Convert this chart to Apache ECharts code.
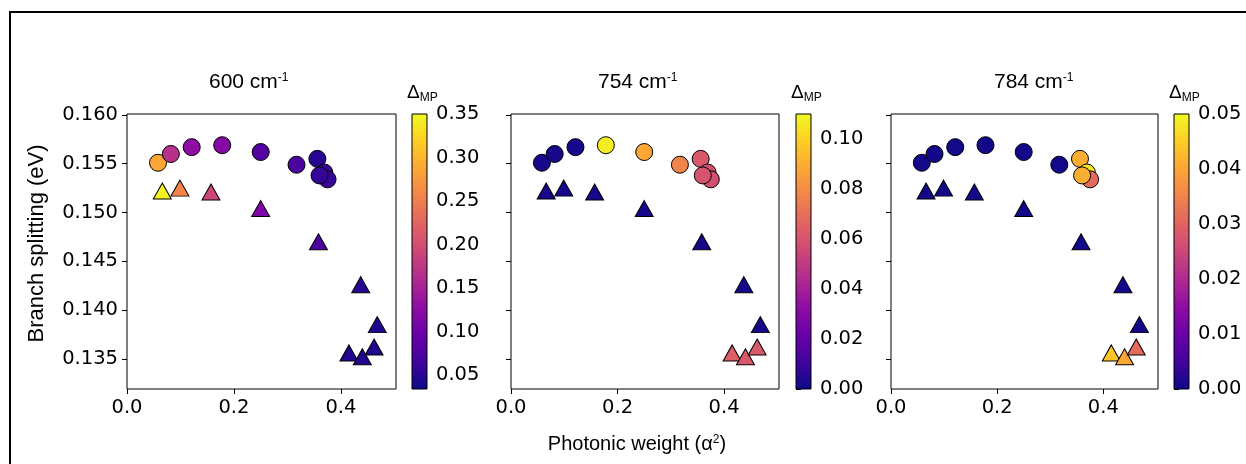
<!DOCTYPE html>
<html>
<head>
<meta charset="utf-8">
<script src="https://cdn.jsdelivr.net/npm/echarts@6/dist/echarts.min.js"></script>
<style>
  html, body { margin: 0; padding: 0; background: #fff; }
  #chart { width: 1246px; height: 464px; }
</style>
</head>
<body>
<div id="chart"></div>
<script>
// photonic weight / branch splitting, same points in all three panels
const circleX = [0.058, 0.082, 0.121, 0.178, 0.250, 0.317, 0.356, 0.369, 0.375, 0.360];
const circleY = [0.1551, 0.1560, 0.1567, 0.1569, 0.1562, 0.1549, 0.1555, 0.1541, 0.1534, 0.1538];
const triX = [0.066, 0.099, 0.157, 0.250, 0.358, 0.437, 0.468, 0.415, 0.440, 0.462];
const triY = [0.1522, 0.1525, 0.1521, 0.1504, 0.1470, 0.1426, 0.1385, 0.1356, 0.1352, 0.1362];

// Δ_MP colour values per mode
const circleDelta600 = [0.287, 0.167, 0.129, 0.119, 0.080, 0.075, 0.050, 0.060, 0.060, 0.058];
const triDelta600 = [0.345, 0.255, 0.192, 0.113, 0.075, 0.050, 0.045, 0.047, 0.047, 0.047];
const circleDelta754 = [0.002, 0.002, 0.002, 0.107, 0.088, 0.077, 0.062, 0.058, 0.058, 0.060];
const triDelta754 = [0.002, 0.002, 0.002, 0.002, 0.002, 0.002, 0.002, 0.064, 0.062, 0.062];
const circleDelta784 = [0.0005, 0.0005, 0.0005, 0.0005, 0.0005, 0.0005, 0.041, 0.048, 0.031, 0.041];
const triDelta784 = [0.0005, 0.0005, 0.0005, 0.0005, 0.0005, 0.0005, 0.0005, 0.044, 0.040, 0.031];

const modes = ['600', '754', '784'];
const xTicks = [0, 0.2, 0.4];
const yTicks = [0.135, 0.140, 0.145, 0.150, 0.155, 0.160];
const cbTicks600 = [0.05, 0.10, 0.15, 0.20, 0.25, 0.30, 0.35];
const cbTicks754 = [0.00, 0.02, 0.04, 0.06, 0.08, 0.10];
const cbTicks784 = [0.00, 0.01, 0.02, 0.03, 0.04, 0.05];
const cbRange600 = [0.034, 0.35];
const cbRange754 = [0, 0.11];
const cbRange784 = [0, 0.05];

const circleDeltas = [circleDelta600, circleDelta754, circleDelta784];
const triDeltas = [triDelta600, triDelta754, triDelta784];
const cbTicks = [cbTicks600, cbTicks754, cbTicks784];
const cbRanges = [cbRange600, cbRange754, cbRange784];

// layout (px)
const gridLefts = [127, 511, 891];
const gridWidths = [269, 268, 267];
const cbLefts = [412, 796, 1174];
const titleLefts = [209, 598, 994];
const gridTop = 114, gridHeight = 275;

const plasma = ['#0d0887', '#41049d', '#6a00a8', '#8f0da4', '#b12a90', '#cc4778',
  '#e16462', '#f2844b', '#fca636', '#fcce25', '#f0f921'];

const tickFont = { fontSize: 19.5, fontFamily: 'DejaVu Sans', color: '#000' };
const textFont = 'Liberation Sans';

const grids = [], xAxes = [], yAxes = [], series = [], visualMaps = [], titles = [];

for (let i = 0; i < 3; i++) {
  grids.push({ left: gridLefts[i], top: gridTop, width: gridWidths[i], height: gridHeight,
    show: true, borderColor: '#000', borderWidth: 1, backgroundColor: '#fff' });
  xAxes.push({
    type: 'value', gridIndex: i, min: 0, max: 0.503,
    splitLine: { show: false }, axisLine: { show: false },
    axisTick: { show: true, length: 5, lineStyle: { color: '#000' }, customValues: xTicks },
    axisLabel: { ...tickFont, margin: 9, customValues: xTicks, formatter: v => v.toFixed(1) },
    name: i === 1 ? 'Photonic weight (α{sup|2})' : '',
    nameLocation: 'middle', nameGap: 45,
    nameTextStyle: { fontSize: 20, fontFamily: textFont, color: '#000', padding: [0, 16, 0, 0],
      rich: { sup: { fontSize: 12, fontFamily: textFont, color: '#000', verticalAlign: 'top', padding: [0, 0, 8, 0] } } }
  });
  yAxes.push({
    type: 'value', gridIndex: i, min: 0.1319, max: 0.1601,
    splitLine: { show: false }, axisLine: { show: false },
    axisTick: { show: true, length: 5, lineStyle: { color: '#000' }, customValues: yTicks },
    axisLabel: { show: i === 0, ...tickFont, margin: 9, customValues: yTicks, formatter: v => v.toFixed(3) },
    name: i === 0 ? 'Branch splitting (eV)' : '',
    nameLocation: 'middle', nameGap: 79, nameRotate: 90,
    nameTextStyle: { fontSize: 22, fontFamily: textFont, color: '#000', padding: [0, 0, 0, 16] }
  });
  series.push({
    type: 'scatter', xAxisIndex: i, yAxisIndex: i, symbol: 'circle', symbolSize: 17,
    itemStyle: { borderColor: '#000', borderWidth: 1, opacity: 1 },
    data: circleX.map((x, k) => [x, circleY[k], circleDeltas[i][k]])
  });
  series.push({
    type: 'scatter', xAxisIndex: i, yAxisIndex: i, symbol: 'triangle', symbolSize: [18, 16],
    itemStyle: { borderColor: '#000', borderWidth: 1, opacity: 1 },
    data: triX.map((x, k) => [x, triY[k], triDeltas[i][k]])
  });
  visualMaps.push({
    type: 'continuous', show: false, seriesIndex: [2 * i, 2 * i + 1], dimension: 2,
    min: cbRanges[i][0], max: cbRanges[i][1], inRange: { color: plasma }
  });
  titles.push({
    text: '{b|' + modes[i] + ' cm}{sup|-1}', left: titleLefts[i], top: 72, padding: 0,
    textStyle: { fontWeight: 'normal', rich: {
      b: { fontSize: 21, fontFamily: textFont, fontWeight: 'normal', color: '#000', verticalAlign: 'bottom' },
      sup: { fontSize: 12, fontFamily: textFont, fontWeight: 'normal', color: '#000', verticalAlign: 'top', padding: [0, 0, 9, 0] }
    } }
  });
  titles.push({
    text: '{d|Δ}{sub|MP}', left: cbLefts[i] - 5, top: 83, padding: 0,
    textStyle: { fontWeight: 'normal', rich: {
      d: { fontSize: 19, fontFamily: textFont, fontWeight: 'normal', color: '#000', verticalAlign: 'top' },
      sub: { fontSize: 12, fontFamily: textFont, fontWeight: 'normal', color: '#000', verticalAlign: 'bottom', padding: [9, 0, 0, 0] }
    } }
  });
}

// colour bars: an extra grid each, gradient filled via the axis scale
for (let i = 0; i < 3; i++) {
  const g = 3 + i;
  grids.push({ left: cbLefts[i], top: gridTop, width: 15, height: gridHeight });
  xAxes.push({ type: 'value', gridIndex: g, min: 0, max: 1, show: false });
  yAxes.push({
    type: 'value', gridIndex: g, position: 'right', min: cbRanges[i][0], max: cbRanges[i][1],
    splitLine: { show: false }, axisLine: { show: false },
    axisTick: { show: true, length: 5, lineStyle: { color: '#000' }, customValues: cbTicks[i] },
    axisLabel: { ...tickFont, margin: 9, customValues: cbTicks[i], formatter: v => v.toFixed(2) }
  });
  series.push({
    type: 'custom', xAxisIndex: g, yAxisIndex: g, silent: true,
    data: [[0, cbRanges[i][0], cbRanges[i][1]]],
    renderItem: (params, api) => {
      const p0 = api.coord([0, api.value(2)]);
      const p1 = api.coord([1, api.value(1)]);
      return {
        type: 'rect',
        shape: { x: p0[0], y: p0[1], width: p1[0] - p0[0], height: p1[1] - p0[1] },
        style: {
          fill: new echarts.graphic.LinearGradient(0, 1, 0, 0,
            plasma.map((c, k) => ({ offset: k / (plasma.length - 1), color: c }))),
          stroke: '#000', lineWidth: 1
        }
      };
    }
  });
}

const chart = echarts.init(document.getElementById('chart'));
chart.setOption({
  backgroundColor: '#fff',
  animation: false,
  title: titles,
  grid: grids,
  xAxis: xAxes,
  yAxis: yAxes,
  visualMap: visualMaps,
  series: series,
  graphic: [{
    type: 'rect', shape: { x: 10, y: 12, width: 1300, height: 500 },
    style: { fill: 'none', stroke: '#000', lineWidth: 2 }, silent: true
  }]
});
</script>
</body>
</html>
